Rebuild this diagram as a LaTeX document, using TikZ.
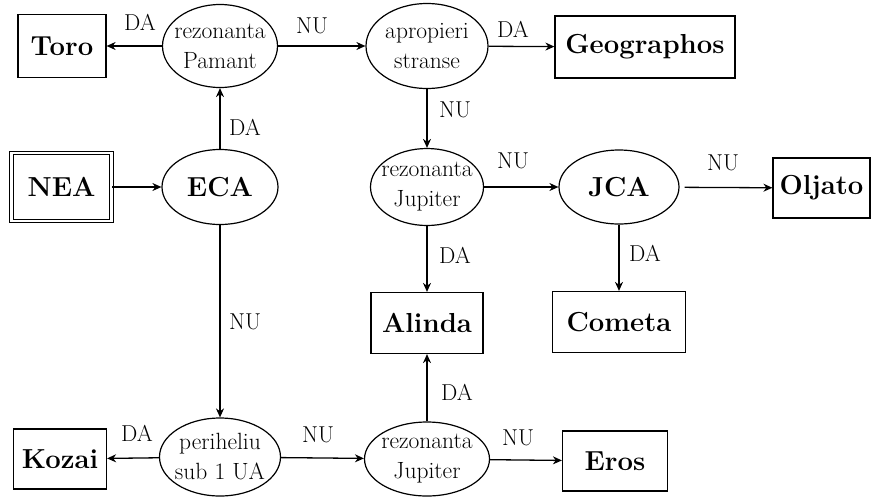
\documentclass[tikz,border=0pt]{standalone}
\usepackage{fontspec}
\usetikzlibrary{shapes.geometric,arrows.meta}
\begin{document}
\begin{tikzpicture}[x=1pt,y=-1pt,
  every node/.style={inner sep=0pt},
  ell/.style={draw,ellipse,inner sep=-9pt,line width=1.2pt,align=center,font=\fontsize{23.5}{30}\selectfont},
  bx/.style={draw,rectangle,line width=1.2pt,font=\fontsize{27.5}{28}\selectfont\bfseries},
  lbl/.style={font=\fontsize{23}{24}\selectfont},
  arr/.style={line width=1.3pt,-{Stealth[length=9pt,width=8pt]}}]
\useasboundingbox (0,0) rectangle (873,496);
% row 1
\node[bx,minimum width=88,minimum height=63] (toro) at (62,46) {Toro};
\node[ell,minimum width=115,minimum height=83] (pam) at (220,46) {rezonanta\\Pamant};
\node[ell,minimum width=122,minimum height=85] (apr) at (427,46) {apropieri\\stranse};
\node[bx,minimum width=180,minimum height=62] (geo) at (645,47) {Geographos};
% row 2
\node[bx,double,double distance=2.5pt,minimum width=100,minimum height=68] (nea) at (61.5,187) {NEA};
\node[ell,minimum width=116,minimum height=75,font=\fontsize{27.5}{28}\selectfont\bfseries] (eca) at (220,187) {ECA};
\node[ell,minimum width=113,minimum height=77] (jup1) at (427,187) {rezonanta\\Jupiter};
\node[ell,minimum width=120,minimum height=74,font=\fontsize{27.5}{28}\selectfont\bfseries] (jca) at (619,187) {JCA};
\node[bx,minimum width=97,minimum height=60] (olj) at (821.5,188) {Oljato};
% row 3
\node[bx,minimum width=112,minimum height=61] (alin) at (427,323) {Alinda};
\node[bx,minimum width=133,minimum height=61] (com) at (619,322) {Cometa};
% row 4
\node[bx,minimum width=93,minimum height=60] (koz) at (60,459) {Kozai};
\node[ell,minimum width=121,minimum height=78] (peri) at (220,457) {periheliu\\sub 1 UA};
\node[ell,minimum width=125,minimum height=74] (jup2) at (427,459) {rezonanta\\Jupiter};
\node[bx,minimum width=105,minimum height=60] (eros) at (615,461) {Eros};
% connectors
\draw[arr] (pam) -- (toro);
\draw[arr] (pam) -- (apr);
\draw[arr] (apr) -- (geo);
\draw[arr] (apr) -- (jup1);
\draw[arr] (nea) -- (eca);
\draw[arr] (eca) -- (pam);
\draw[arr] (eca) -- (peri);
\draw[arr] (jup1) -- (jca);
\draw[arr,shorten <=5pt] (jca) -- (olj);
\draw[arr] (jca) -- (com);
\draw[arr] (jup1) -- (alin);
\draw[arr] (jup2) -- (alin);
\draw[arr] (peri) -- (koz);
\draw[arr] (peri) -- (jup2);
\draw[arr] (jup2) -- (eros);
% labels
\node[lbl] (l1) at (140,22) {DA};
\node[lbl] (l2) at (312,26) {NU};
\node[lbl] (l3) at (513,29) {DA};
\node[lbl] (l4) at (455,110) {NU};
\node[lbl] (l5) at (245,127) {DA};
\node[lbl] (l6) at (513,161) {NU};
\node[lbl] (l7) at (723,163) {NU};
\node[lbl] (l8) at (455,255) {DA};
\node[lbl] (l9) at (645,253) {DA};
\node[lbl] (l10) at (245,322) {NU};
\node[lbl] (l11) at (457,392) {DA};
\node[lbl] (l12) at (137,433) {DA};
\node[lbl] (l13) at (318,435) {NU};
\node[lbl] (l14) at (518,438) {NU};
\end{tikzpicture}
\end{document}
